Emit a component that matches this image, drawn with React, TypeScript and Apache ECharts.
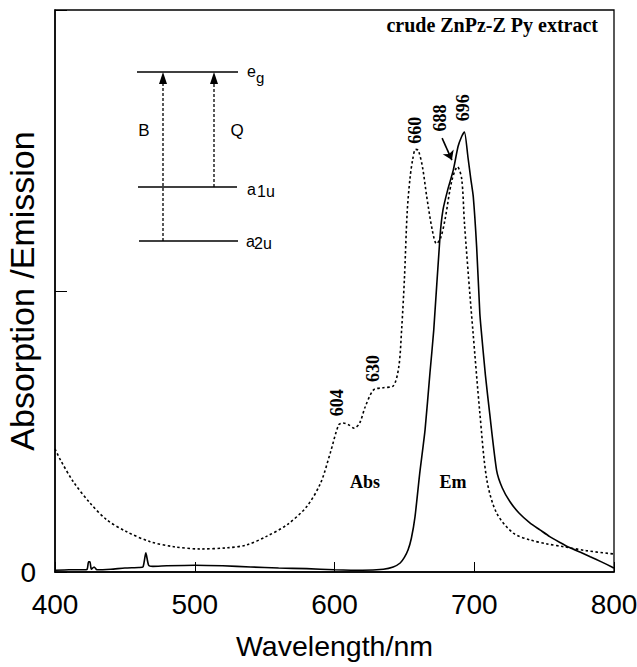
import React, { useEffect, useRef } from "react";
import * as echarts from "echarts";

// Absorption (dotted) spectrum
const absX = [400, 404, 413, 425, 437, 451, 468, 485, 504, 523, 537, 551, 566, 580, 590, 597, 603, 606, 610, 614, 618, 622, 628, 635, 642, 646, 648, 650, 652, 654, 656, 658, 660, 663, 666, 670, 673, 676, 679, 684, 688, 691, 693, 697, 699, 704, 709, 716, 728, 740, 752, 764, 780, 800];
const absY = [0.219, 0.199, 0.161, 0.123, 0.093, 0.072, 0.054, 0.045, 0.041, 0.043, 0.048, 0.063, 0.084, 0.116, 0.158, 0.212, 0.262, 0.265, 0.262, 0.256, 0.265, 0.294, 0.324, 0.328, 0.331, 0.365, 0.43, 0.52, 0.64, 0.7, 0.735, 0.752, 0.75, 0.72, 0.668, 0.608, 0.584, 0.595, 0.626, 0.697, 0.721, 0.7, 0.62, 0.49, 0.43, 0.283, 0.164, 0.105, 0.069, 0.057, 0.05, 0.045, 0.038, 0.032];

// Emission (solid) spectrum
const emX = [400, 410, 420, 423, 424, 425, 426, 428, 430, 440, 450, 460, 463, 465, 467, 470, 480, 500, 520, 540, 560, 580, 600, 620, 635, 642, 647, 650, 652.6, 655, 657.6, 661, 664.8, 668.3, 671, 675.5, 677.6, 681, 685, 688.4, 691, 693, 695.5, 697.5, 699.3, 701.7, 704, 705, 708, 711, 716, 720, 725.6, 732, 740, 747, 754, 761, 768.6, 776, 783, 791, 798.5, 800];
const emY = [0.003, 0.004, 0.004, 0.005, 0.018, 0.018, 0.005, 0.009, 0.004, 0.005, 0.007, 0.008, 0.009, 0.034, 0.012, 0.01, 0.011, 0.012, 0.011, 0.009, 0.007, 0.006, 0.004, 0.003, 0.005, 0.009, 0.016, 0.026, 0.039, 0.06, 0.098, 0.176, 0.253, 0.354, 0.43, 0.597, 0.644, 0.68, 0.715, 0.757, 0.775, 0.783, 0.738, 0.7, 0.668, 0.579, 0.46, 0.43, 0.35, 0.283, 0.181, 0.15, 0.125, 0.105, 0.087, 0.075, 0.063, 0.053, 0.043, 0.035, 0.027, 0.018, 0.009, 0.007];

// Peak annotations (label text and anchor position in data units)
const peakLabels = ["604", "630", "660", "688", "696"];
const peakAnchorX = [601.8, 627.5, 657.6, 675.5, 692];
const peakAnchorY = [0.301, 0.362, 0.786, 0.808, 0.826];

// Curve names
const curveNames = ["Abs", "Em"];
const curveNameX = [621.8, 684.8];
const curveNameY = [0.16, 0.161];

// Arrow towards the 688 shoulder
const arrowFrom = [677, 0.772];
const arrowTo = [684, 0.733];

const xTicks = [400, 500, 600, 700, 800];

const SANS = "'Liberation Sans', Arial, sans-serif";
const SERIF = "'Liberation Serif', 'Times New Roman', serif";

export default function App() {
  const ref = useRef<HTMLDivElement>(null);

  useEffect(() => {
    if (!ref.current) return;
    const chart = echarts.init(ref.current, null, { renderer: "svg" });

    const dashedV = (x: number, y1: number, y2: number) => ({
      type: "line",
      shape: { x1: x, y1: y1, x2: x, y2: y2 },
      style: { stroke: "#000", lineWidth: 1.3, lineDash: [3, 2] },
    });
    const head = (x: number, y: number) => ({
      type: "polygon",
      shape: { points: [[x, y], [x - 4, y + 12], [x + 4, y + 12]] },
      style: { fill: "#000" },
    });
    const level = (x1: number, x2: number, y: number) => ({
      type: "line",
      shape: { x1, y1: y, x2, y2: y },
      style: { stroke: "#000", lineWidth: 1.6 },
    });
    const txt = (t: string, x: number, y: number, size: number, align = "left") => ({
      type: "text",
      x,
      y,
      style: { text: t, fontFamily: SANS, fontSize: size, fill: "#000", align, verticalAlign: "middle" },
    });

    const labelBase = {
      show: true,
      position: "inside",
      fontFamily: SERIF,
      fontWeight: "bold",
      fontSize: 18,
      color: "#000",
      opacity: 1,
      textBorderWidth: 0,
      formatter: (p: any) => p.value[2],
    };

    const option: any = {
      animation: false,
      grid: {
        left: 55,
        right: 23,
        top: 10,
        bottom: 95,
        containLabel: false,
        outerBoundsMode: "none",
        show: true,
        borderColor: "#000",
        borderWidth: 1.3,
      },
      xAxis: {
        type: "value",
        min: 400,
        max: 800,
        interval: 100,
        name: "Wavelength/nm",
        nameLocation: "middle",
        nameGap: 59,
        nameMoveOverlap: false,
        nameTextStyle: { fontFamily: SANS, fontSize: 28.5, color: "#000" },
        axisLine: { lineStyle: { color: "#000", width: 1.5 } },
        axisTick: { inside: true, length: 10, lineStyle: { color: "#000", width: 1 } },
        axisLabel: {
          fontFamily: SANS,
          fontSize: 28,
          color: "#000",
          margin: 18,
          formatter: (v: number) => (xTicks.indexOf(v) >= 0 ? String(v) : ""),
        },
        splitLine: { show: false },
      },
      yAxis: {
        type: "value",
        min: 0,
        max: 1,
        interval: 0.5,
        name: "Absorption /Emission",
        nameLocation: "middle",
        nameGap: 16,
        nameMoveOverlap: false,
        nameTextStyle: { fontFamily: SANS, fontSize: 34, color: "#000" },
        axisLine: { lineStyle: { color: "#000", width: 1.5 } },
        axisTick: { inside: true, length: 12, lineStyle: { color: "#000", width: 1 } },
        axisLabel: {
          fontFamily: SANS,
          fontSize: 28,
          color: "#000",
          margin: 19,
          formatter: (v: number) => (v === 0 ? "0" : ""),
        },
        splitLine: { show: false },
      },
      series: [
        {
          name: "Abs",
          type: "line",
          data: absX.map((x, i) => [x, absY[i]]),
          showSymbol: false,
          smooth: 0.3,
          lineStyle: { color: "#000", width: 1.6, type: [2.5, 2.5] },
          markLine: {
            silent: true,
            symbol: ["none", "arrow"],
            symbolSize: 9,
            label: { show: false },
            lineStyle: { color: "#000", width: 1.6, type: "solid" },
            data: [[{ coord: arrowFrom }, { coord: arrowTo }]],
          },
        },
        {
          name: "Em",
          type: "line",
          data: emX.map((x, i) => [x, emY[i]]),
          showSymbol: false,
          smooth: 0.2,
          lineStyle: { color: "#000", width: 1.6 },
        },
        {
          name: "peaks",
          type: "scatter",
          symbolSize: 0,
          silent: true,
          data: peakLabels.map((t, i) => [peakAnchorX[i], peakAnchorY[i], t]),
          label: { ...labelBase, rotate: 90 },
        },
        {
          name: "names",
          type: "scatter",
          symbolSize: 0,
          silent: true,
          data: curveNames.map((t, i) => [curveNameX[i], curveNameY[i], t]),
          label: labelBase,
        },
      ],
      graphic: [
        {
          type: "text",
          x: 598,
          y: 25,
          style: {
            text: "crude ZnPz-Z Py extract",
            fontFamily: SERIF,
            fontWeight: "bold",
            fontSize: 20,
            fill: "#000",
            align: "right",
            verticalAlign: "middle",
          },
        },
        level(137, 238, 72),
        level(138, 237, 187),
        level(139, 238, 241),
        dashedV(163, 241, 80),
        dashedV(214, 187, 80),
        head(163, 72),
        head(214, 72),
        txt("B", 144, 130, 17, "center"),
        txt("Q", 237, 130, 17, "center"),
        txt("e", 247, 71, 16),
        txt("g", 256, 77, 15),
        txt("a", 247, 189, 16),
        txt("1u", 257, 191, 16),
        txt("a", 246, 241, 16),
        txt("2u", 254, 243, 16),
      ],
    };

    chart.setOption(option);
    return () => chart.dispose();
  }, []);

  return (
    <div
      ref={ref}
      style={{ position: "fixed", left: 0, top: 0, width: 637, height: 667, background: "#fff" }}
    />
  );
}
